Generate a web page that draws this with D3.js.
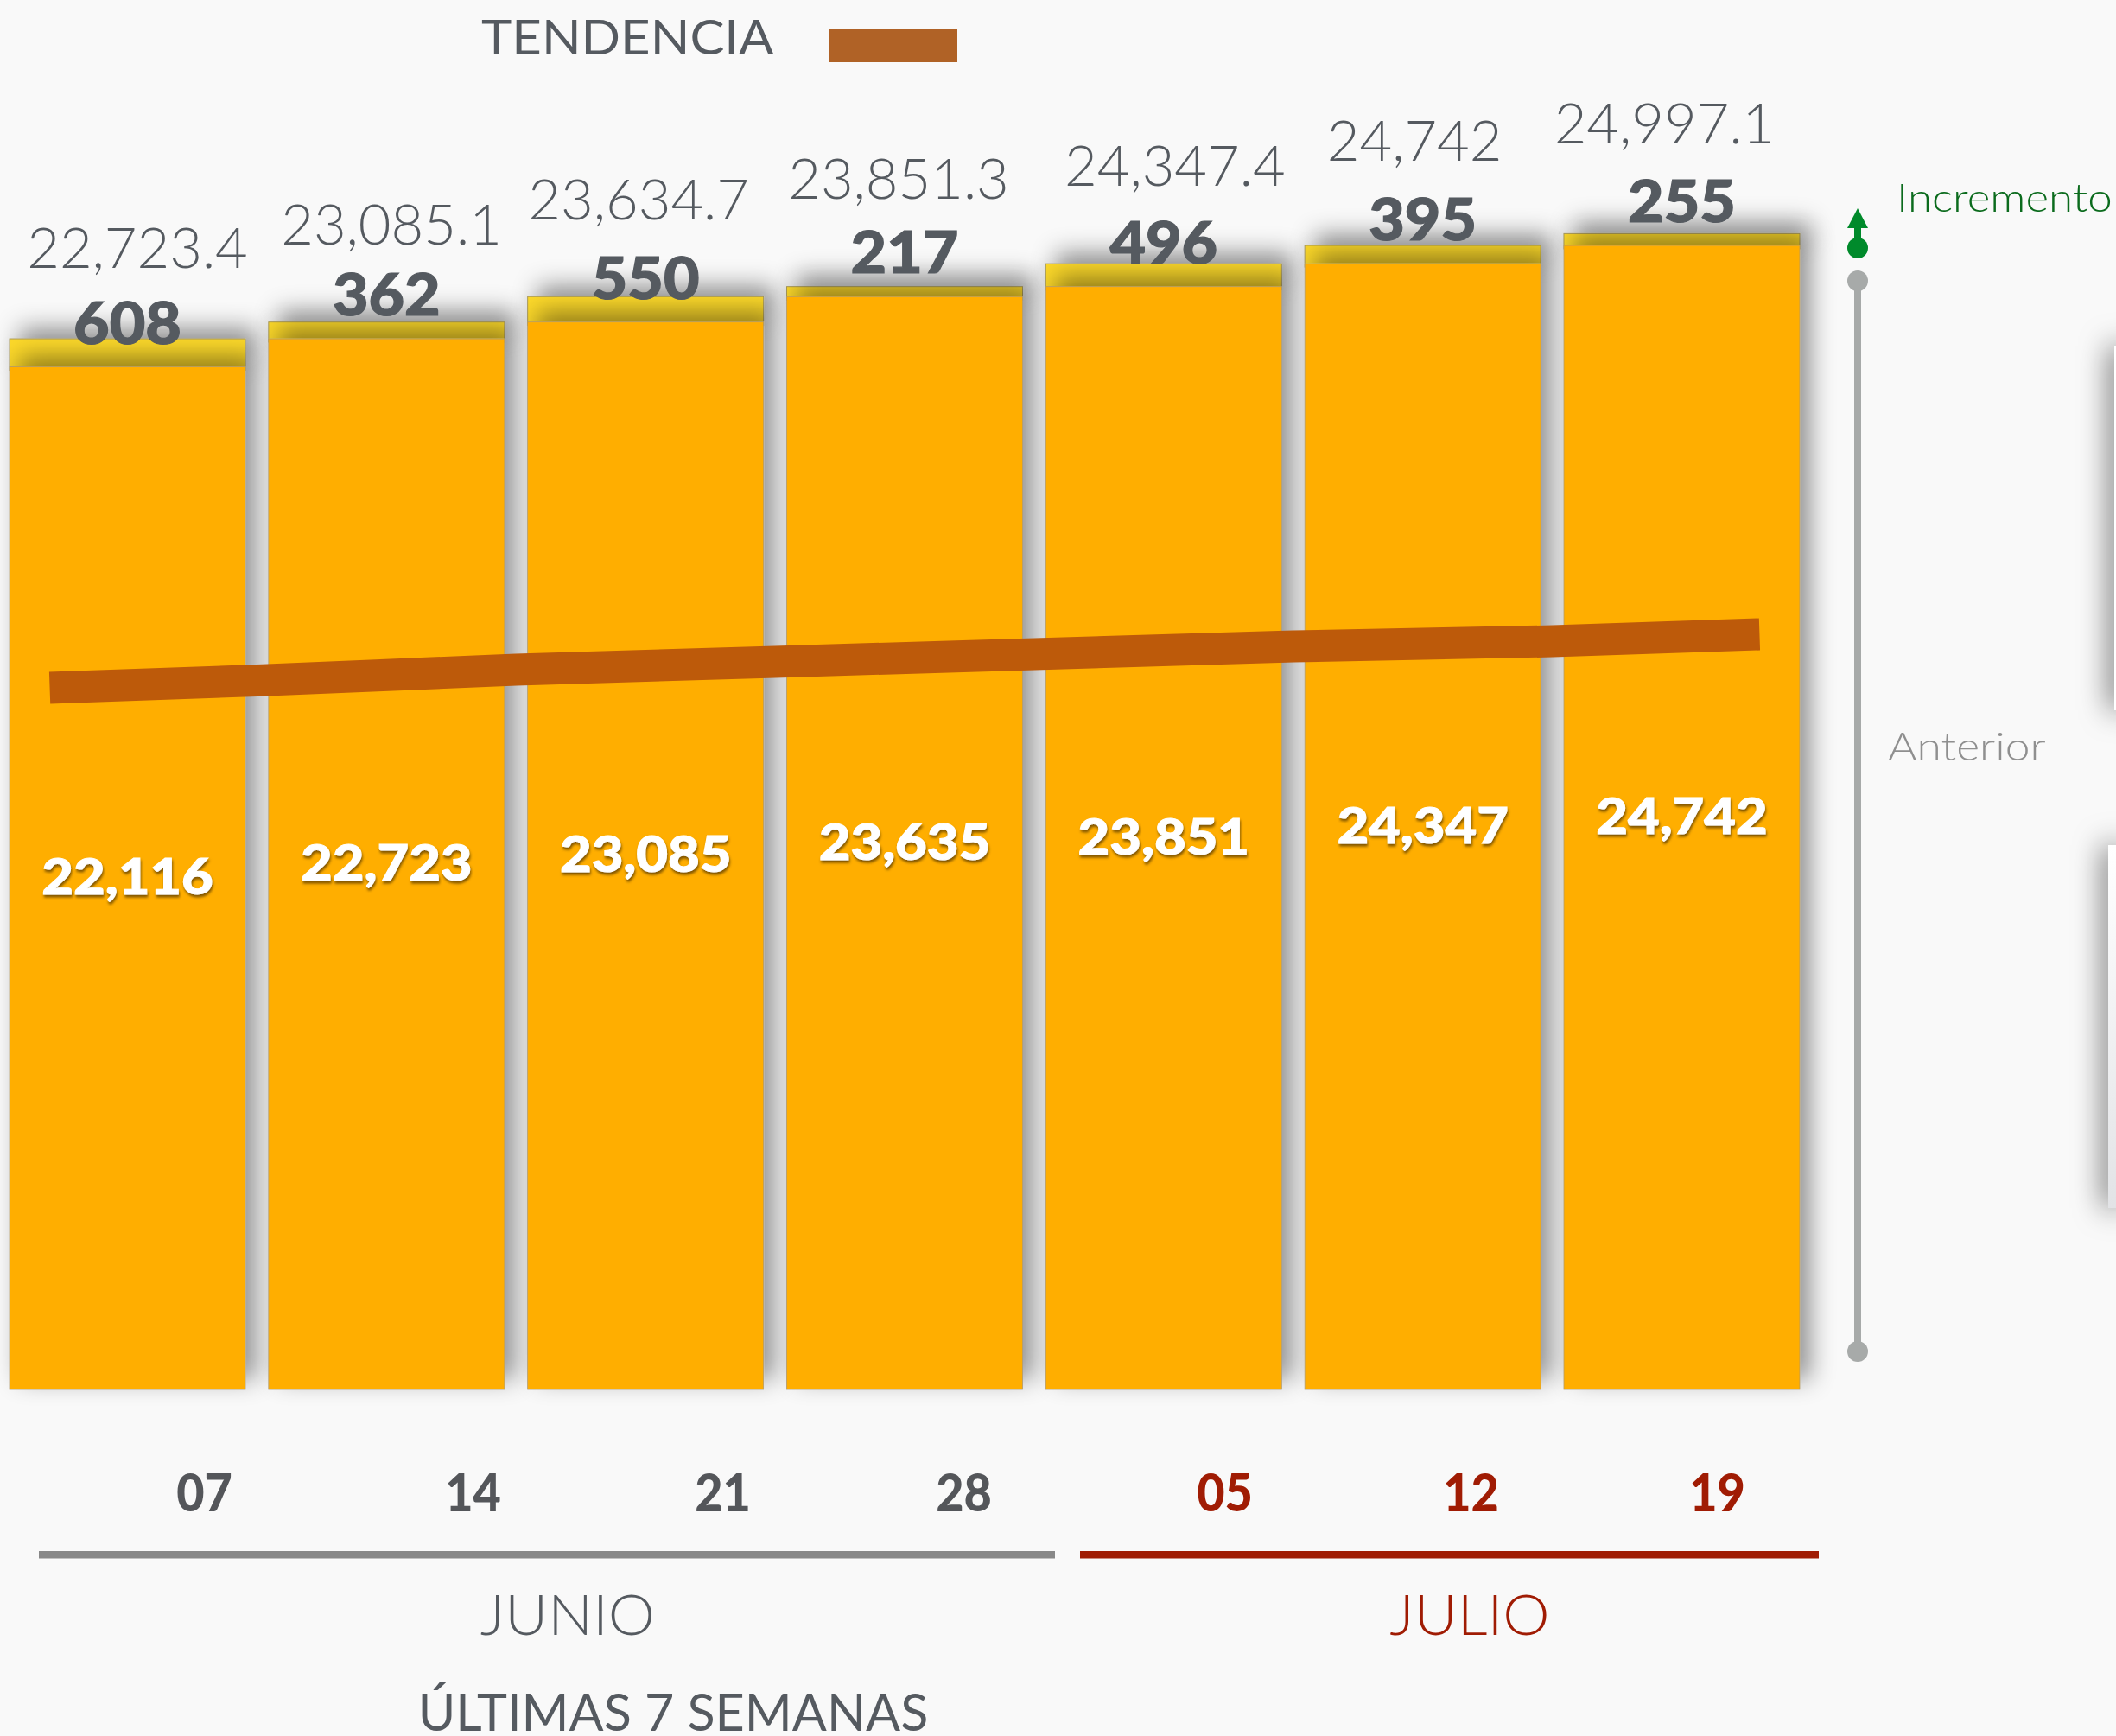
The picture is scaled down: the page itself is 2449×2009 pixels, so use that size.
<!DOCTYPE html>
<html>
<head>
<meta charset="utf-8">
<script src="https://cdn.jsdelivr.net/npm/d3@7"></script>
<style>
  html, body { margin: 0; padding: 0; background: #f9f9f9; overflow: hidden; }
  svg { display: block; }
  text { font-family: Lato, "Open Sans", sans-serif; }
</style>
</head>
<body>
<div id="chart"></div>
<script>
// values
const weeks = ["07", "14", "21", "28", "05", "12", "19"];
const weekMonth = ["JUNIO", "JUNIO", "JUNIO", "JUNIO", "JULIO", "JULIO", "JULIO"];
const previous = [22116, 22723, 23085, 23635, 23851, 24347, 24742];
const totals = [22723.4, 23085.1, 23634.7, 23851.3, 24347.4, 24742, 24997.1];
const increments = [608, 362, 550, 217, 496, 395, 255];
const trendAt = [-0.3, 0.5, 1.5, 2.5, 3.5, 4.5, 5.5, 6.3];
const trendValues = [15175, 15333, 15567, 15735, 15903, 16071, 16183, 16333];
const months = ["JUNIO", "JULIO"];

// layout only
const width = 2449, height = 2009;
const tickCenters = [236, 547, 836, 1115, 1417, 1702, 1987];
const totalDx = [11.5, 5.7, -8, -7, 13, -9.5, -20];
const totalRise = [82, 90, 89, 102, 90, 98, 104];

const GREY_TEXT = "#555a60";
const RED = "#a01c04";

// Lato runs a little narrower than the original face
function stretch(sel, k) {
  sel.each(function() {
    d3.select(this)
      .attr("textLength", this.getComputedTextLength() * k)
      .attr("lengthAdjust", "spacingAndGlyphs");
  });
  return sel;
}

const svg = d3.select("#chart").append("svg")
  .attr("width", width)
  .attr("height", height);

svg.append("rect").attr("width", width).attr("height", height).attr("fill", "#f9f9f9");

const defs = svg.append("defs");

const barShadow = defs.append("filter").attr("id", "barShadow")
  .attr("filterUnits", "userSpaceOnUse")
  .attr("x", 0).attr("y", 0).attr("width", width).attr("height", height);
barShadow.append("feDropShadow")
  .attr("dx", 12).attr("dy", -12).attr("stdDeviation", 14)
  .attr("flood-color", "#000").attr("flood-opacity", 0.42);

const textShadow = defs.append("filter").attr("id", "textShadow")
  .attr("x", "-10%").attr("y", "-20%").attr("width", "120%").attr("height", "150%");
textShadow.append("feDropShadow")
  .attr("dx", 1).attr("dy", 3).attr("stdDeviation", 1.5)
  .attr("flood-color", "#5a3a00").attr("flood-opacity", 0.75);

const panelShadow = defs.append("filter").attr("id", "panelShadow")
  .attr("filterUnits", "userSpaceOnUse")
  .attr("x", 2300).attr("y", 300).attr("width", 149).attr("height", 1200);
panelShadow.append("feDropShadow")
  .attr("dx", -4).attr("dy", 0).attr("stdDeviation", 17)
  .attr("flood-color", "#000").attr("flood-opacity", 0.65);

const panelFill = defs.append("linearGradient").attr("id", "panelFill")
  .attr("x1", 0).attr("y1", 0).attr("x2", 0).attr("y2", 1);
panelFill.append("stop").attr("offset", "0%").attr("stop-color", "#ffffff");
panelFill.append("stop").attr("offset", "100%").attr("stop-color", "#e2e3e6");

const x = d3.scaleBand()
  .domain(d3.range(weeks.length))
  .range([11, 2083])
  .paddingInner(0.0894);

const y = d3.scaleLinear()
  .domain([0, 25000])
  .range([1608, 270.2]);

const xAt = d3.scaleLinear()
  .domain([0, weeks.length - 1])
  .range([x(0) + x.bandwidth() / 2, x(weeks.length - 1) + x.bandwidth() / 2]);

// panels cut off by the right edge
svg.append("rect")
  .attr("x", 2447).attr("y", 400).attr("width", 20).attr("height", 422)
  .attr("fill", "#fff").attr("filter", "url(#panelShadow)");
svg.append("rect")
  .attr("x", 2440).attr("y", 978).attr("width", 20).attr("height", 420)
  .attr("fill", "url(#panelFill)").attr("filter", "url(#panelShadow)");

// bars, left to right so each one covers the shadow of the one before
weeks.forEach((w, i) => {
  const g = svg.append("g");
  g.append("rect")
    .attr("x", x(i)).attr("y", y(totals[i]))
    .attr("width", x.bandwidth()).attr("height", y(previous[i]) - y(totals[i]) + 4)
    .attr("fill", "#fdd92c")
    .attr("stroke", "#a99a5a").attr("stroke-width", 1)
    .attr("filter", "url(#barShadow)");
  g.append("rect")
    .attr("x", x(i)).attr("y", y(previous[i]))
    .attr("width", x.bandwidth()).attr("height", y(0) - y(previous[i]))
    .attr("fill", "#ffae03")
    .attr("stroke", "#b09a6a").attr("stroke-width", 0.8)
    .attr("filter", "url(#barShadow)");
});

// trend
const trendLine = d3.line()
  .x(d => xAt(d[0]))
  .y(d => y(d[1]));

svg.append("path")
  .datum(d3.zip(trendAt, trendValues))
  .attr("fill", "none")
  .attr("stroke", "#bd5a0a")
  .attr("stroke-width", 37)
  .attr("d", trendLine);

// labels
svg.append("g").selectAll("text")
  .data(totals)
  .enter()
  .append("text")
  .attr("x", (d, i) => x(i) + x.bandwidth() / 2 + totalDx[i])
  .attr("y", (d, i) => y(d) - totalRise[i])
  .attr("text-anchor", "middle")
  .attr("font-size", 65)
  .attr("font-weight", 300)
  .attr("fill", GREY_TEXT)
  .text(d => d3.format(",")(d));

svg.append("g").selectAll("text")
  .data(increments)
  .enter()
  .append("text")
  .attr("x", (d, i) => x(i) + x.bandwidth() / 2)
  .attr("y", (d, i) => y(previous[i]) - 27)
  .attr("text-anchor", "middle")
  .attr("font-size", 67)
  .attr("font-weight", 900)
  .attr("fill", GREY_TEXT)
  .attr("stroke", GREY_TEXT)
  .attr("stroke-width", 1.2)
  .text(d => d)
  .call(stretch, 1.07);

svg.append("g").selectAll("text")
  .data(previous)
  .enter()
  .append("text")
  .attr("x", (d, i) => x(i) + x.bandwidth() / 2)
  .attr("y", d => (y(d) + y(0)) / 2 + 19)
  .attr("text-anchor", "middle")
  .attr("font-size", 57)
  .attr("font-weight", 900)
  .attr("fill", "#fff")
  .attr("stroke", "#fff")
  .attr("stroke-width", 1)
  .attr("filter", "url(#textShadow)")
  .text(d => d3.format(",")(d))
  .call(stretch, 1.11);

// legend
svg.append("text")
  .attr("x", 557).attr("y", 63)
  .attr("font-size", 57)
  .attr("fill", GREY_TEXT)
  .text("TENDENCIA")
  .call(stretch, 1.05);
svg.append("rect")
  .attr("x", 960).attr("y", 34).attr("width", 148).attr("height", 38)
  .attr("fill", "#b06226");

// week ticks
const tickScale = d3.scaleOrdinal().domain(d3.range(weeks.length)).range(tickCenters);
const tickAxis = svg.append("g")
  .attr("transform", "translate(0,1749)")
  .call(d3.axisBottom(tickScale).tickSize(0).tickFormat(i => weeks[i]));
tickAxis.select(".domain").remove();
tickAxis.selectAll("text")
  .attr("y", 0).attr("dy", 0)
  .attr("font-size", 60)
  .attr("font-weight", 900)
  .attr("font-family", "Lato")
  .attr("fill", i => weekMonth[i] === "JULIO" ? RED : "#54565a")
  .call(stretch, 0.93);

// month brackets
const monthExtent = { JUNIO: [45, 1221], JULIO: [1250, 2105] };
months.forEach(m => {
  const color = m === "JULIO" ? RED : "#888888";
  svg.append("rect")
    .attr("x", monthExtent[m][0]).attr("y", 1795)
    .attr("width", monthExtent[m][1] - monthExtent[m][0]).attr("height", 8.5)
    .attr("fill", color);
  svg.append("text")
    .attr("x", m === "JULIO" ? 1701 : 657).attr("y", 1892)
    .attr("text-anchor", "middle")
    .attr("font-size", 66)
    .attr("font-weight", 300)
    .attr("fill", m === "JULIO" ? RED : GREY_TEXT)
    .text(m)
    .call(stretch, 1.04);
});

svg.append("text")
  .attr("x", 779).attr("y", 2003)
  .attr("text-anchor", "middle")
  .attr("font-size", 60)
  .attr("fill", GREY_TEXT)
  .text("ÚLTIMAS 7 SEMANAS")
  .call(stretch, 0.987);

// side scale
svg.append("rect")
  .attr("x", 2146).attr("y", 325).attr("width", 8).attr("height", 1239)
  .attr("fill", "#a7aaa9");
[325, 1564].forEach(cy => {
  svg.append("circle")
    .attr("cx", 2150).attr("cy", cy).attr("r", 12)
    .attr("fill", "#a7aaa9");
});

const GREEN = "#008a2b";
svg.append("circle").attr("cx", 2150).attr("cy", 287).attr("r", 12).attr("fill", GREEN);
svg.append("rect").attr("x", 2146).attr("y", 260).attr("width", 8).attr("height", 25).attr("fill", GREEN);
svg.append("path")
  .attr("d", d3.line()([[2150, 241], [2162, 264], [2138, 264]]) + "Z")
  .attr("fill", GREEN);

svg.append("text")
  .attr("x", 2195).attr("y", 245)
  .attr("font-size", 46)
  .attr("font-weight", 300)
  .attr("fill", "#0b6b1d")
  .text("Incremento")
  .call(stretch, 1.11);

svg.append("text")
  .attr("x", 2185).attr("y", 880)
  .attr("font-size", 46)
  .attr("font-weight", 300)
  .attr("fill", "#8f8f8f")
  .text("Anterior")
  .call(stretch, 1.12);
</script>
</body>
</html>
